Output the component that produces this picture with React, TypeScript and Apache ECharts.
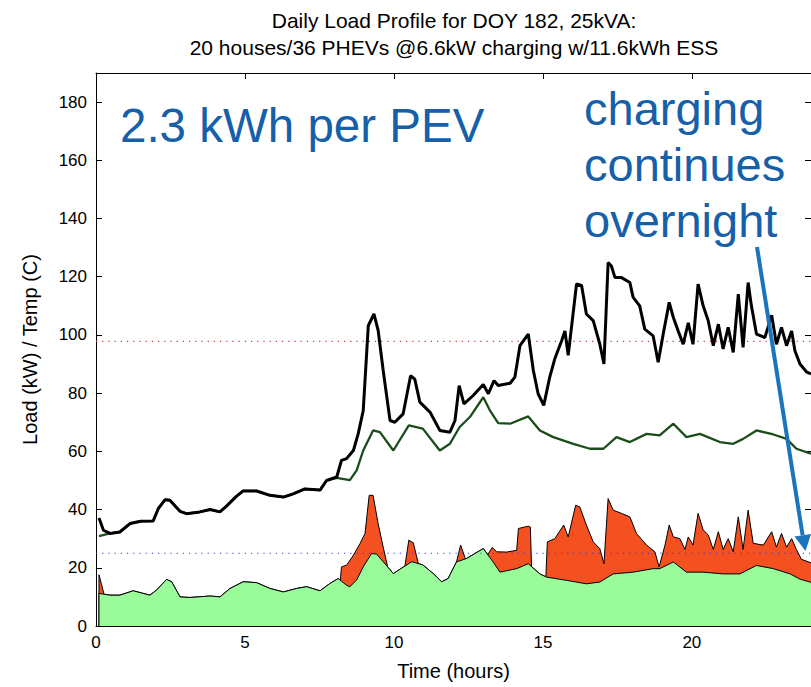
import React, { useEffect, useRef } from "react";
import * as echarts from "echarts";

// ---- Data (hours, kW) ----
const totalLoad: [number, number][] = [
  [0.1, 37.1], [0.25, 32.9], [0.47, 31.8], [0.8, 32.3], [1.14, 35.2], [1.5, 36], [1.92, 36.1],
  [2.09, 40.3], [2.32, 43.4], [2.48, 43.2], [2.82, 39.4], [3.04, 38.6], [3.49, 39.2], [3.83, 40],
  [4.16, 39.2], [4.38, 41.2], [4.72, 44.6], [4.94, 46.4], [5.39, 46.4], [5.84, 44.9], [6.29, 44.3],
  [6.62, 45.4], [7.01, 47.1], [7.52, 46.7], [7.74, 50], [8.08, 51.2], [8.24, 56.9], [8.41, 57.5],
  [8.64, 60.3], [8.8, 66], [8.97, 74], [9.14, 103.2], [9.33, 107.2], [9.47, 101.6], [9.64, 87.8],
  [9.87, 70.6], [10.03, 70], [10.31, 72.9], [10.56, 86], [10.7, 84.8], [10.87, 76.9], [11.21, 73.5],
  [11.54, 67.2], [11.88, 66.6], [12.05, 70.6], [12.19, 82.6], [12.35, 76.3], [12.66, 79.2], [13.0, 83],
  [13.17, 79.8], [13.36, 84.3], [13.5, 82.6], [13.9, 83.4], [14.06, 85.5], [14.23, 96.3], [14.51, 100.3],
  [14.68, 87.8], [14.84, 79.8], [15.03, 75.8], [15.23, 85.5], [15.4, 91.8], [15.63, 98], [15.74, 101.4],
  [15.85, 93], [15.96, 102.6], [16.13, 117.5], [16.3, 117], [16.46, 107.2], [16.69, 104.9], [16.91, 96.9],
  [17.05, 90], [17.19, 124.9], [17.3, 123.7], [17.42, 119.7], [17.64, 119.7], [17.92, 118], [18.03, 112.9],
  [18.25, 110], [18.42, 102], [18.7, 99.7], [18.87, 90.6], [19.04, 100.3], [19.24, 111.2], [19.38, 106],
  [19.54, 101.4], [19.71, 96.8], [19.88, 104.2], [20.04, 96.8], [20.21, 117.5], [20.38, 110], [20.55, 104.9],
  [20.72, 96.3], [20.89, 103.7], [21.05, 95.2], [21.22, 102.6], [21.39, 94], [21.56, 114], [21.72, 95.7],
  [21.89, 118], [22.0, 110], [22.17, 100.3], [22.45, 99.1], [22.68, 106.8], [22.84, 96.8], [23.01, 102.6],
  [23.18, 96.3], [23.35, 101.4], [23.46, 94.6], [23.63, 90], [23.86, 87.2], [24, 86.6],
];

const baseLoad: [number, number][] = [
  [0.1, 30.9], [0.47, 31.8], [0.8, 32.3], [1.14, 35.2], [1.5, 36], [1.92, 36.1], [2.09, 40.3],
  [2.32, 43.4], [2.48, 43.2], [2.82, 39.4], [3.04, 38.6], [3.49, 39.2], [3.83, 40], [4.16, 39.2],
  [4.38, 41.2], [4.72, 44.6], [4.94, 46.4], [5.39, 46.4], [5.84, 44.9], [6.29, 44.3], [6.62, 45.4],
  [7.01, 47.1], [7.52, 46.7], [7.74, 50], [8.08, 50.9], [8.52, 50.1], [8.75, 53.5], [8.97, 60.3],
  [9.3, 67.2], [9.53, 66.6], [9.98, 60.3], [10.5, 68.9], [10.97, 67.8], [11.54, 60.3], [11.88, 62.6],
  [12.2, 68.3], [12.55, 71.8], [13.0, 78.6], [13.22, 74.1], [13.5, 69.7], [13.9, 69.5], [14.51, 72],
  [14.9, 67.2], [15.35, 64.9], [16.02, 62.6], [16.58, 60.9], [17.03, 60.9], [17.47, 64.9], [17.92, 63.2],
  [18.48, 66], [18.92, 65.5], [19.38, 69.5], [19.82, 64.9], [20.27, 66], [20.94, 63.2], [21.39, 62.6],
  [21.72, 64.3], [22.17, 67.2], [22.74, 65.8], [23.18, 64.3], [23.51, 60.9], [24, 59.2],
];

const houseLoad: [number, number][] = [
  [0.1, 11.2], [0.47, 10.6], [0.8, 10.6], [1.25, 12.1], [1.81, 10.6], [2.03, 12.3], [2.37, 16],
  [2.54, 15.2], [2.82, 10], [3.15, 9.8], [3.83, 10.3], [4.16, 10], [4.5, 12.9], [4.94, 15.2],
  [5.39, 14.9], [5.84, 12.9], [6.29, 11.7], [6.73, 12.9], [7.07, 13.5], [7.52, 12.1], [7.85, 14.6],
  [8.13, 16.3], [8.41, 14], [8.52, 13.5], [8.75, 15.8], [8.97, 20.3], [9.25, 24.9], [9.42, 24.7],
  [9.64, 22.1], [9.98, 18], [10.25, 19.8], [10.6, 22.1], [10.97, 21], [11.32, 18], [11.6, 15.2],
  [11.82, 16.3], [12.1, 22], [12.44, 23.2], [13.0, 26.6], [13.33, 22], [13.56, 18.5], [14.12, 19.7],
  [14.51, 21.4], [14.9, 17.9], [15.12, 16.8], [15.79, 15.7], [16.46, 14.5], [16.91, 15.1], [17.36, 17.9],
  [18.03, 18.5], [18.7, 19.7], [18.92, 19.7], [19.38, 22], [19.82, 18.5], [20.38, 18.5], [21.05, 17.9],
  [21.61, 17.9], [22.17, 20.8], [22.74, 19.7], [23.3, 17.9], [23.63, 16.1], [24, 15],
];

// Top of the red (charging) band where it rises above the house load
const chargeSegments: [number, number][][] = [
  [[0.1, 17.6], [0.18, 14.5], [0.27, 10.9]],
  [[8.2, 15.7], [8.24, 20.3], [8.41, 20.9], [8.64, 24.3], [8.86, 28.3], [9.03, 31.8], [9.17, 44.9],
   [9.3, 44.9], [9.47, 35.2], [9.64, 27.1], [9.79, 20.3]],
  [[10.37, 20.6], [10.5, 29.5], [10.65, 28.6], [10.82, 21.4]],
  [[12.1, 22], [12.24, 27.8], [12.4, 23.1]],
  [[13.15, 24.5], [13.3, 27], [13.45, 25.5], [13.78, 25.4], [14.12, 26], [14.18, 33.5], [14.51, 34.3],
   [14.58, 34], [14.62, 20.4]],
  [[15.1, 16.9], [15.15, 28.9], [15.4, 30], [15.7, 34.7], [15.85, 30.6], [16.1, 41.5], [16.24, 40.9],
   [16.46, 34.7], [16.69, 28.9], [16.91, 26.6], [17.05, 21.4], [17.19, 43.8], [17.36, 39.8], [17.64, 38.7],
   [17.92, 37.5], [18.14, 31.8], [18.48, 27.8], [18.76, 25.5], [18.9, 20.3], [19.1, 27.8], [19.24, 34.7],
   [19.38, 30.6], [19.6, 30], [19.77, 26.3], [19.88, 30.6], [20.04, 27.8], [20.21, 38.7], [20.38, 33],
   [20.55, 31.3], [20.72, 26.3], [20.89, 32.4], [21.05, 26.3], [21.22, 30], [21.39, 25.5], [21.56, 37.5],
   [21.72, 26.3], [21.89, 39.8], [22.06, 28.4], [22.4, 27.8], [22.68, 32.4], [22.84, 27.1], [23.01, 31.8],
   [23.18, 27.1], [23.35, 30], [23.51, 26.3], [23.68, 22.9], [24, 21.7]],
];

const upperLimit = 97.8;
const lowerLimit = 25;
const xTicks = { min: 0, max: 24, interval: 5 };
const yTicks = { min: 0, max: 190, interval: 20 };

const titleLines = [
  "Daily Load Profile for DOY 182, 25kVA:",
  "20 houses/36 PHEVs @6.6kW charging w/11.6kWh ESS",
];

// ---- build helpers ----
function buildChargeTop(): [number, number][] {
  const inSeg = (h: number) =>
    chargeSegments.some((s) => h >= s[0][0] && h <= s[s.length - 1][0]);
  const pts: [number, number][] = houseLoad.filter((p) => !inSeg(p[0]));
  chargeSegments.forEach((s) => pts.push(...s));
  pts.sort((a, b) => a[0] - b[0]);
  return [[pts[0][0], 0], ...pts];
}

const FONT = '"Liberation Sans", Arial, Helvetica, sans-serif';

export default function App() {
  const ref = useRef<HTMLDivElement>(null);
  useEffect(() => {
    if (!ref.current) return;
    const chart = echarts.init(ref.current, null, { renderer: "svg" });
    const axisLine = { show: true, onZero: false, lineStyle: { color: "#000", width: 1 } };
    const tick = { show: true, inside: true, length: 6, lineStyle: { color: "#000", width: 1 } };
    const label = { color: "#000", fontSize: 17, fontFamily: FONT, showMaxLabel: false };
    const chargeTop = buildChargeTop();
    const houseArea: [number, number][] = [[houseLoad[0][0], 0], ...houseLoad];

    chart.setOption({
      animation: false,
      backgroundColor: "#fff",
      title: {
        text: titleLines.join("\n"),
        left: 454,
        top: 7,
        textAlign: "center",
        padding: 0,
        textStyle: { color: "#000", fontSize: 21, fontWeight: "normal", fontFamily: FONT, lineHeight: 27 },
      },
      grid: { left: 96, top: 73, width: 716, height: 553, containLabel: false },
      xAxis: [
        {
          type: "value", ...xTicks, position: "bottom",
          axisLine, axisTick: tick, splitLine: { show: false },
          axisLabel: { ...label, margin: 8 },
          name: "Time (hours)", nameLocation: "middle", nameGap: 35,
          nameTextStyle: { color: "#000", fontSize: 20, fontFamily: FONT },
        },
        {
          type: "value", ...xTicks, position: "top",
          axisLine, axisTick: tick, splitLine: { show: false }, axisLabel: { show: false },
        },
      ],
      yAxis: [
        {
          type: "value", ...yTicks, position: "left",
          axisLine, axisTick: tick, splitLine: { show: false },
          axisLabel: { ...label, margin: 9 },
          name: "Load (kW) / Temp (C)", nameLocation: "middle", nameGap: 56,
          nameTextStyle: { color: "#000", fontSize: 20, fontFamily: FONT },
        },
        {
          type: "value", ...yTicks, position: "right",
          axisLine, axisTick: tick, splitLine: { show: false }, axisLabel: { show: false },
        },
      ],
      series: [
        {
          name: "PEV charging", type: "line", data: chargeTop, showSymbol: false, silent: true, z: 2,
          lineStyle: { color: "#000", width: 1 },
          areaStyle: { color: "#f5501f", opacity: 1 },
        },
        {
          name: "House load", type: "line", data: houseArea, showSymbol: false, silent: true, z: 3,
          lineStyle: { color: "#000", width: 1 },
          areaStyle: { color: "#99fb99", opacity: 1 },
        },
        {
          name: "Upper limit", type: "line", data: [[xTicks.min, upperLimit], [xTicks.max, upperLimit]],
          showSymbol: false, silent: true, z: 4,
          lineStyle: { color: "#c03a3a", width: 1.2, type: [1.2, 5] },
        },
        {
          name: "Lower limit", type: "line", data: [[xTicks.min, lowerLimit], [xTicks.max, lowerLimit]],
          showSymbol: false, silent: true, z: 4,
          lineStyle: { color: "#3a3ac0", width: 1.2, type: [1.2, 5] },
        },
        {
          name: "Base load", type: "line", data: baseLoad, showSymbol: false, silent: true, z: 5,
          lineStyle: { color: "#1b4d1b", width: 2.3 },
        },
        {
          name: "Total load", type: "line", data: totalLoad, showSymbol: false, silent: true, z: 6,
          lineStyle: { color: "#000", width: 3 },
        },
      ],
      graphic: [
        {
          type: "text", x: 120, y: 125, z: 100,
          style: {
            text: "2.3 kWh per PEV", fill: "#1660aa", fontSize: 47.5, fontFamily: FONT,
            verticalAlign: "middle", align: "left",
          },
        },
        {
          type: "text", x: 584, y: 80, z: 100,
          style: {
            text: "charging\ncontinues\novernight", fill: "#1660aa", fontSize: 47, fontFamily: FONT,
            lineHeight: 56, verticalAlign: "top", align: "left",
          },
        },
        {
          type: "line", z: 100,
          shape: { x1: 757, y1: 247, x2: 802.6, y2: 535.2 },
          style: { stroke: "#1a75bd", lineWidth: 4 },
        },
        {
          type: "polygon", z: 100,
          shape: { points: [[805.5, 551], [811, 533.9], [794.5, 536.5]] },
          style: { fill: "#1a75bd" },
        },
      ],
    });
    return () => chart.dispose();
  }, []);
  return (
    <div
      ref={ref}
      style={{ position: "absolute", left: 0, top: 0, width: 811, height: 687, background: "#fff" }}
    />
  );
}
